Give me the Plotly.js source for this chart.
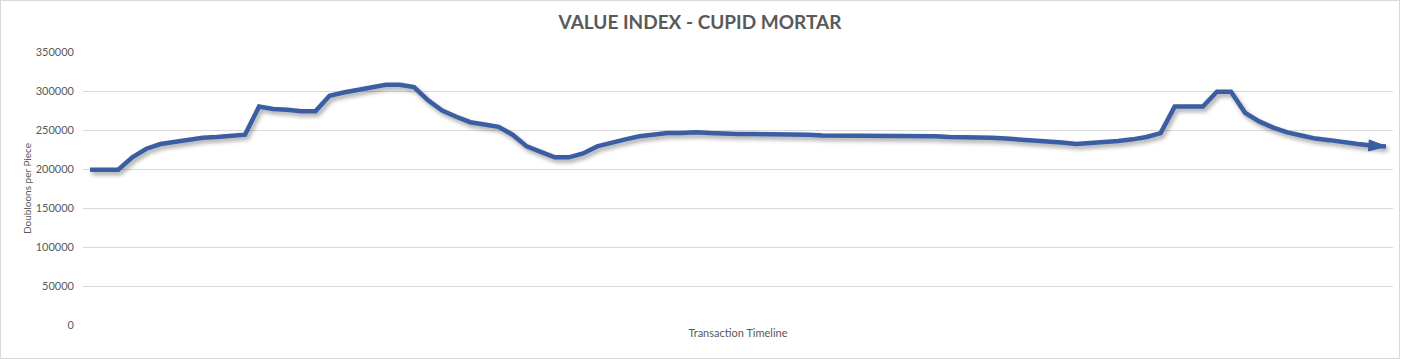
<!DOCTYPE html>
<html>
<head>
<meta charset="utf-8">
<script src="https://cdn.plot.ly/plotly-3.0.1.min.js"></script>
<style>
  html, body { margin: 0; padding: 0; background: #fff; }
  #chart { box-sizing: border-box; width: 1400px; height: 359px; border: 1px solid #d9d9d9; }
  #chart .scatterlayer .trace path.js-line { filter: drop-shadow(2px 3px 2px rgba(0,0,0,0.35)); }
</style>
</head>
<body>
<div id="chart"></div>
<script>
const chartTitle = "VALUE INDEX - CUPID MORTAR";
const yTitle = "Doubloons per Piece";
const xTitle = "Transaction Timeline";
const yTicks = [0, 50000, 100000, 150000, 200000, 250000, 300000, 350000];

const values = [
  199000, 199000, 199000, 215000, 226000, 232000, 235000, 238000, 240000, 241000,
  242000, 244000, 280000, 277000, 276000, 274000, 274000, 294000, 298000, 301000,
  304000, 308000, 308000, 305000, 288000, 275000, 267000, 260000, 257000, 254000,
  244000, 229000, 222000, 215000, 215000, 220000, 229000, 234000, 238000, 242000,
  244000, 246000, 246000, 247000, 246000, 245000, 245000, 245000, 245000, 244000,
  244000, 244000, 243000, 243000, 243000, 243000, 242000, 242000, 242000, 242000,
  242000, 241000, 241000, 240000, 240000, 239000, 238000, 236000, 235000, 234000,
  232000, 233000, 235000, 236000, 238000, 241000, 246000, 280000, 280000, 280000,
  299000, 299000, 272000, 261000, 253000, 247000, 243000, 239000, 237000, 234000,
  232000, 230000, 229000
];
const timeline = values.map((v, i) => i);

const n = values.length;
const sizes = values.map((v, i) => i === n - 1 ? 18 : 0);
const symbols = values.map((v, i) => i === n - 1 ? 'arrow' : 'circle');

const trace = {
  x: timeline,
  y: values,
  type: 'scatter',
  mode: 'lines+markers',
  line: { color: '#3a5da3', width: 4.5 },
  marker: { color: '#3a5da3', opacity: 1, size: sizes, symbol: symbols, angleref: 'previous', line: { width: 1, color: '#3a5da3' } },
  hoverinfo: 'y',
  showlegend: false
};

const layout = {
  width: 1398,
  height: 357,
  margin: { l: 82, r: 6, t: 51, b: 33 },
  paper_bgcolor: '#ffffff',
  plot_bgcolor: '#ffffff',
  font: { family: 'Lato, "Open Sans", sans-serif', color: '#595959', size: 11 },
  title: {
    text: '<b>' + chartTitle + '</b>',
    font: { family: 'Lato, "Open Sans", sans-serif', size: 19, color: '#595959' },
    xref: 'container', x: 0.5, xanchor: 'center',
    yref: 'container', y: 0.94, yanchor: 'middle'
  },
  xaxis: {
    range: [-0.5, n - 0.5],
    showgrid: false, zeroline: false, showline: false,
    showticklabels: false, ticks: '',
    fixedrange: true,
    title: { text: xTitle, font: { size: 11, color: '#595959' }, standoff: 4 }
  },
  yaxis: {
    range: [0, 350000],
    tickvals: yTicks,
    tickformat: 'd',
    showgrid: true, gridcolor: '#d9d9d9', gridwidth: 1,
    zeroline: false, showline: false, ticks: '',
    ticklabelstandoff: 8,
    tickfont: { size: 11, color: '#595959' },
    fixedrange: true,
    title: { text: yTitle, font: { size: 10, color: '#595959' }, standoff: 2 }
  }
};

Plotly.newPlot('chart', [trace], layout, { displayModeBar: false, staticPlot: true });
</script>
</body>
</html>
